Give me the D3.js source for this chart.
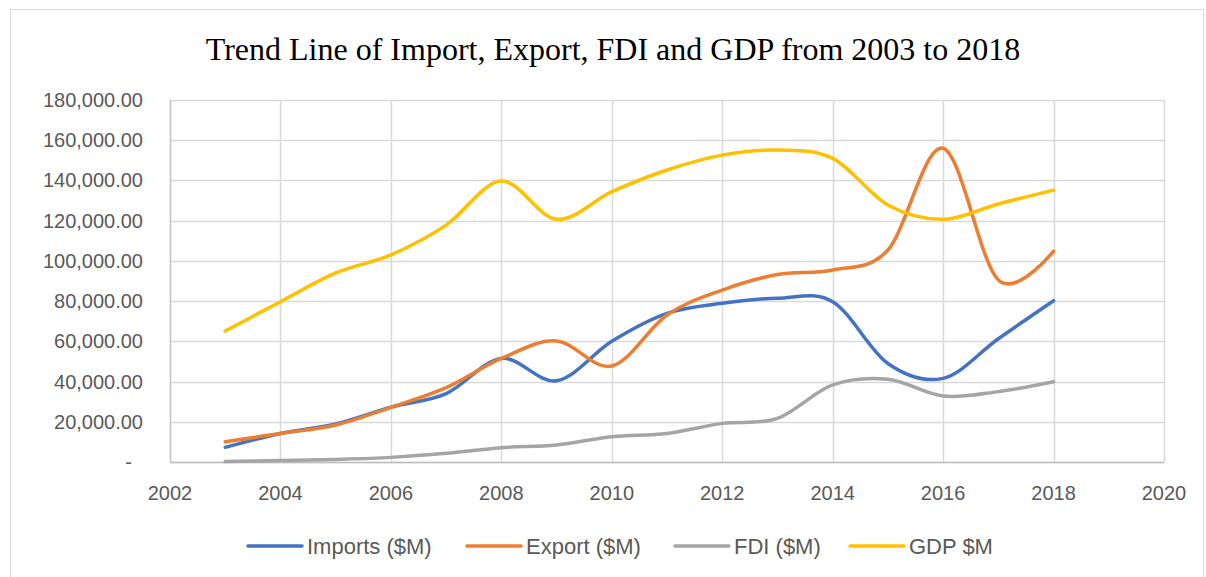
<!DOCTYPE html>
<html>
<head>
<meta charset="utf-8">
<script src="https://cdn.jsdelivr.net/npm/d3@7"></script>
<style>
  body { margin: 0; background: #fff; }
  svg text { font-family: "Liberation Sans", Arial, sans-serif; }
</style>
</head>
<body>
<div id="chart"></div>
<script>
'use strict';

// data
var years = [2003, 2004, 2005, 2006, 2007, 2008, 2009, 2010, 2011, 2012, 2013, 2014, 2015, 2016, 2017, 2018];
var imports = [7300, 14200, 18900, 27200, 34000, 51500, 40400, 60000, 73900, 78900, 81400, 79700, 49000, 41600, 61300, 80200];
var exports = [10100, 14200, 18400, 27200, 37000, 51500, 60200, 47700, 73100, 85500, 93200, 95500, 105400, 156000, 90500, 104900];
var fdi = [200, 700, 1300, 2300, 4300, 7100, 8500, 12600, 14200, 19200, 21700, 38300, 41100, 32800, 35000, 39900];
var gdp = [65100, 79700, 94000, 103000, 117800, 139700, 120700, 134400, 145200, 152600, 155100, 151000, 127800, 120700, 128300, 135200];
var xTicks = [2002, 2004, 2006, 2008, 2010, 2012, 2014, 2016, 2018, 2020];
var yTicks = [0, 20000, 40000, 60000, 80000, 100000, 120000, 140000, 160000, 180000];
var seriesNames = ["Imports ($M)", "Export ($M)", "FDI ($M)", "GDP $M"];
var seriesValues = [imports, exports, fdi, gdp];
var seriesColors = ["#4472C4", "#ED7D31", "#A5A5A5", "#FFC000"];

var svgWidth = 1206, svgHeight = 577,
    margin = { top: 100, left: 170, right: 42, bottom: 115 };
var width = svgWidth - margin.left - margin.right;
var height = svgHeight - margin.top - margin.bottom;

var svg = d3.select("#chart").append("svg")
  .attr("width", svgWidth)
  .attr("height", svgHeight);

// outer chart border
svg.append("rect")
  .attr("x", 10.5).attr("y", 9.5)
  .attr("width", 1193).attr("height", 580)
  .attr("fill", "#fff")
  .attr("stroke", "#d9d9d9");

svg.append("text")
  .attr("x", 613)
  .attr("y", 60)
  .attr("text-anchor", "middle")
  .style("font-family", "'Liberation Serif', 'Times New Roman', serif")
  .style("font-size", "32px")
  .attr("fill", "#000")
  .text("Trend Line of Import, Export, FDI and GDP from 2003 to 2018");

var main = svg.append("g")
  .attr("transform", "translate(" + margin.left + "," + margin.top + ")");

var x = d3.scaleLinear().domain([2002, 2020]).range([0, width]);
var y = d3.scaleLinear().domain([0, 180000]).range([height, 0]);

// gridlines
main.append("g")
  .selectAll("line")
  .data(yTicks)
  .join("line")
  .attr("x1", 0).attr("x2", width)
  .attr("y1", d => Math.round(y(d)) + 0.5)
  .attr("y2", d => Math.round(y(d)) + 0.5)
  .attr("stroke", "#d9d9d9")
  .attr("stroke-width", 1.5);

main.append("g")
  .selectAll("line")
  .data(xTicks)
  .join("line")
  .attr("x1", d => Math.round(x(d)) + 0.5)
  .attr("x2", d => Math.round(x(d)) + 0.5)
  .attr("y1", 0).attr("y2", height)
  .attr("stroke", d => d == 2002 ? "#bfbfbf" : "#d9d9d9")
  .attr("stroke-width", 1.5);

// x axis line
main.append("line")
  .attr("x1", 0).attr("x2", width)
  .attr("y1", Math.round(height) + 0.5).attr("y2", Math.round(height) + 0.5)
  .attr("stroke", "#bfbfbf")
  .attr("stroke-width", 1.5);

// y labels
var fmt = d3.format(",.2f");
main.append("g")
  .selectAll("text")
  .data(yTicks)
  .join("text")
  .attr("x", d => d == 0 ? -38 : -27)
  .attr("y", d => y(d))
  .attr("dy", "0.35em")
  .attr("text-anchor", "end")
  .attr("fill", "#595959")
  .style("font-size", "20px")
  .text(d => d == 0 ? "-" : fmt(d));

// x labels
main.append("g")
  .selectAll("text")
  .data(xTicks)
  .join("text")
  .attr("x", d => x(d))
  .attr("y", height + 38)
  .attr("text-anchor", "middle")
  .attr("fill", "#595959")
  .style("font-size", "20px")
  .text(d => d);

// series lines
var line = d3.line()
  .x((d, i) => x(years[i]))
  .y(d => y(d))
  .curve(d3.curveCardinal.tension(0));

main.append("g")
  .selectAll("path")
  .data(seriesValues)
  .join("path")
  .attr("fill", "none")
  .attr("stroke", (d, i) => seriesColors[i])
  .attr("stroke-width", 3.5)
  .attr("stroke-linecap", "round")
  .attr("d", line);

// legend
var legendX = [248, 467, 675, 850];
var legend = svg.append("g")
  .selectAll("g")
  .data(seriesNames)
  .join("g")
  .attr("transform", (d, i) => "translate(" + legendX[i] + ",546)");

legend.append("line")
  .attr("x1", 0).attr("x2", 54)
  .attr("y1", 0).attr("y2", 0)
  .attr("stroke", (d, i) => seriesColors[i])
  .attr("stroke-width", 3.5)
  .attr("stroke-linecap", "round");

legend.append("text")
  .attr("x", 59)
  .attr("dy", "0.36em")
  .attr("fill", "#595959")
  .style("font-size", "22px")
  .text(d => d);
</script>
</body>
</html>
